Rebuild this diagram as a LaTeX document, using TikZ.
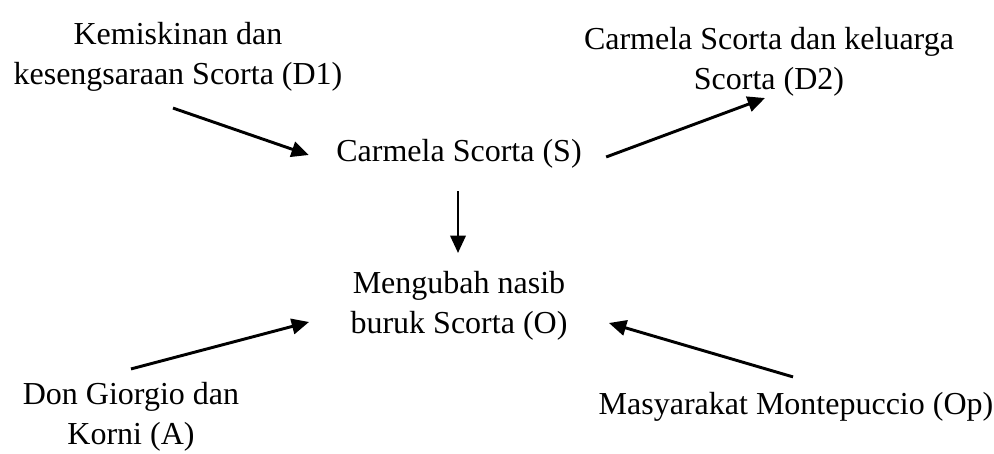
\documentclass[tikz,border=0pt]{standalone}
\usepackage{fontspec}
\setmainfont{Liberation Serif}
\usetikzlibrary{arrows.meta}
\tikzset{
    x=0.375pt, y=-0.375pt, % one unit per pixel, y going down
    >={Triangle[length=6.5pt,width=5.8pt]}, % solid triangular heads
    actant/.style={align=center, inner sep=0pt, font=\fontsize{12}{15}\selectfont}, % sets the text of each actant
    arr/.style={->, line width=1.1pt}, % the slanted arrows
}

\begin{document}
\begin{tikzpicture}
                            \useasboundingbox (0,0) rectangle (994,454);
                            \node[actant] (d1) at (178,57) {Kemiskinan dan\\kesengsaraan Scorta (D1)};
                            \node[actant] (d2) at (769,62) {Carmela Scorta dan keluarga\\Scorta (D2)};
                            \node[actant] (s) at (459,154) {Carmela Scorta (S)};
                            \node[actant] (o) at (459,306) {Mengubah nasib\\buruk Scorta (O)};
                            \node[actant] (a) at (131,417) {Don Giorgio dan\\Korni (A)};
                            \node[actant] (op) at (796,407) {Masyarakat Montepuccio (Op)};
                            \draw[arr] ([shift={(-5,16)}]d1.south) -- ([shift={(-27,1)}]s.west);
                            \draw[arr] ([shift={(24,3)}]s.east) -- ([shift={(-4,1)}]d2.south);
                            \draw[->, line width=0.8pt] ([shift={(-1,22)}]s.south) -- ([shift={(-1,-18)}]o.north);
                            \draw[arr] ([shift={(0,-13)}]a.north) -- ([shift={(-41,16)}]o.west);
                            \draw[arr] ([shift={(-3,-15)}]op.north) -- ([shift={(41,17)}]o.east);
                        \end{tikzpicture}
\end{document}
